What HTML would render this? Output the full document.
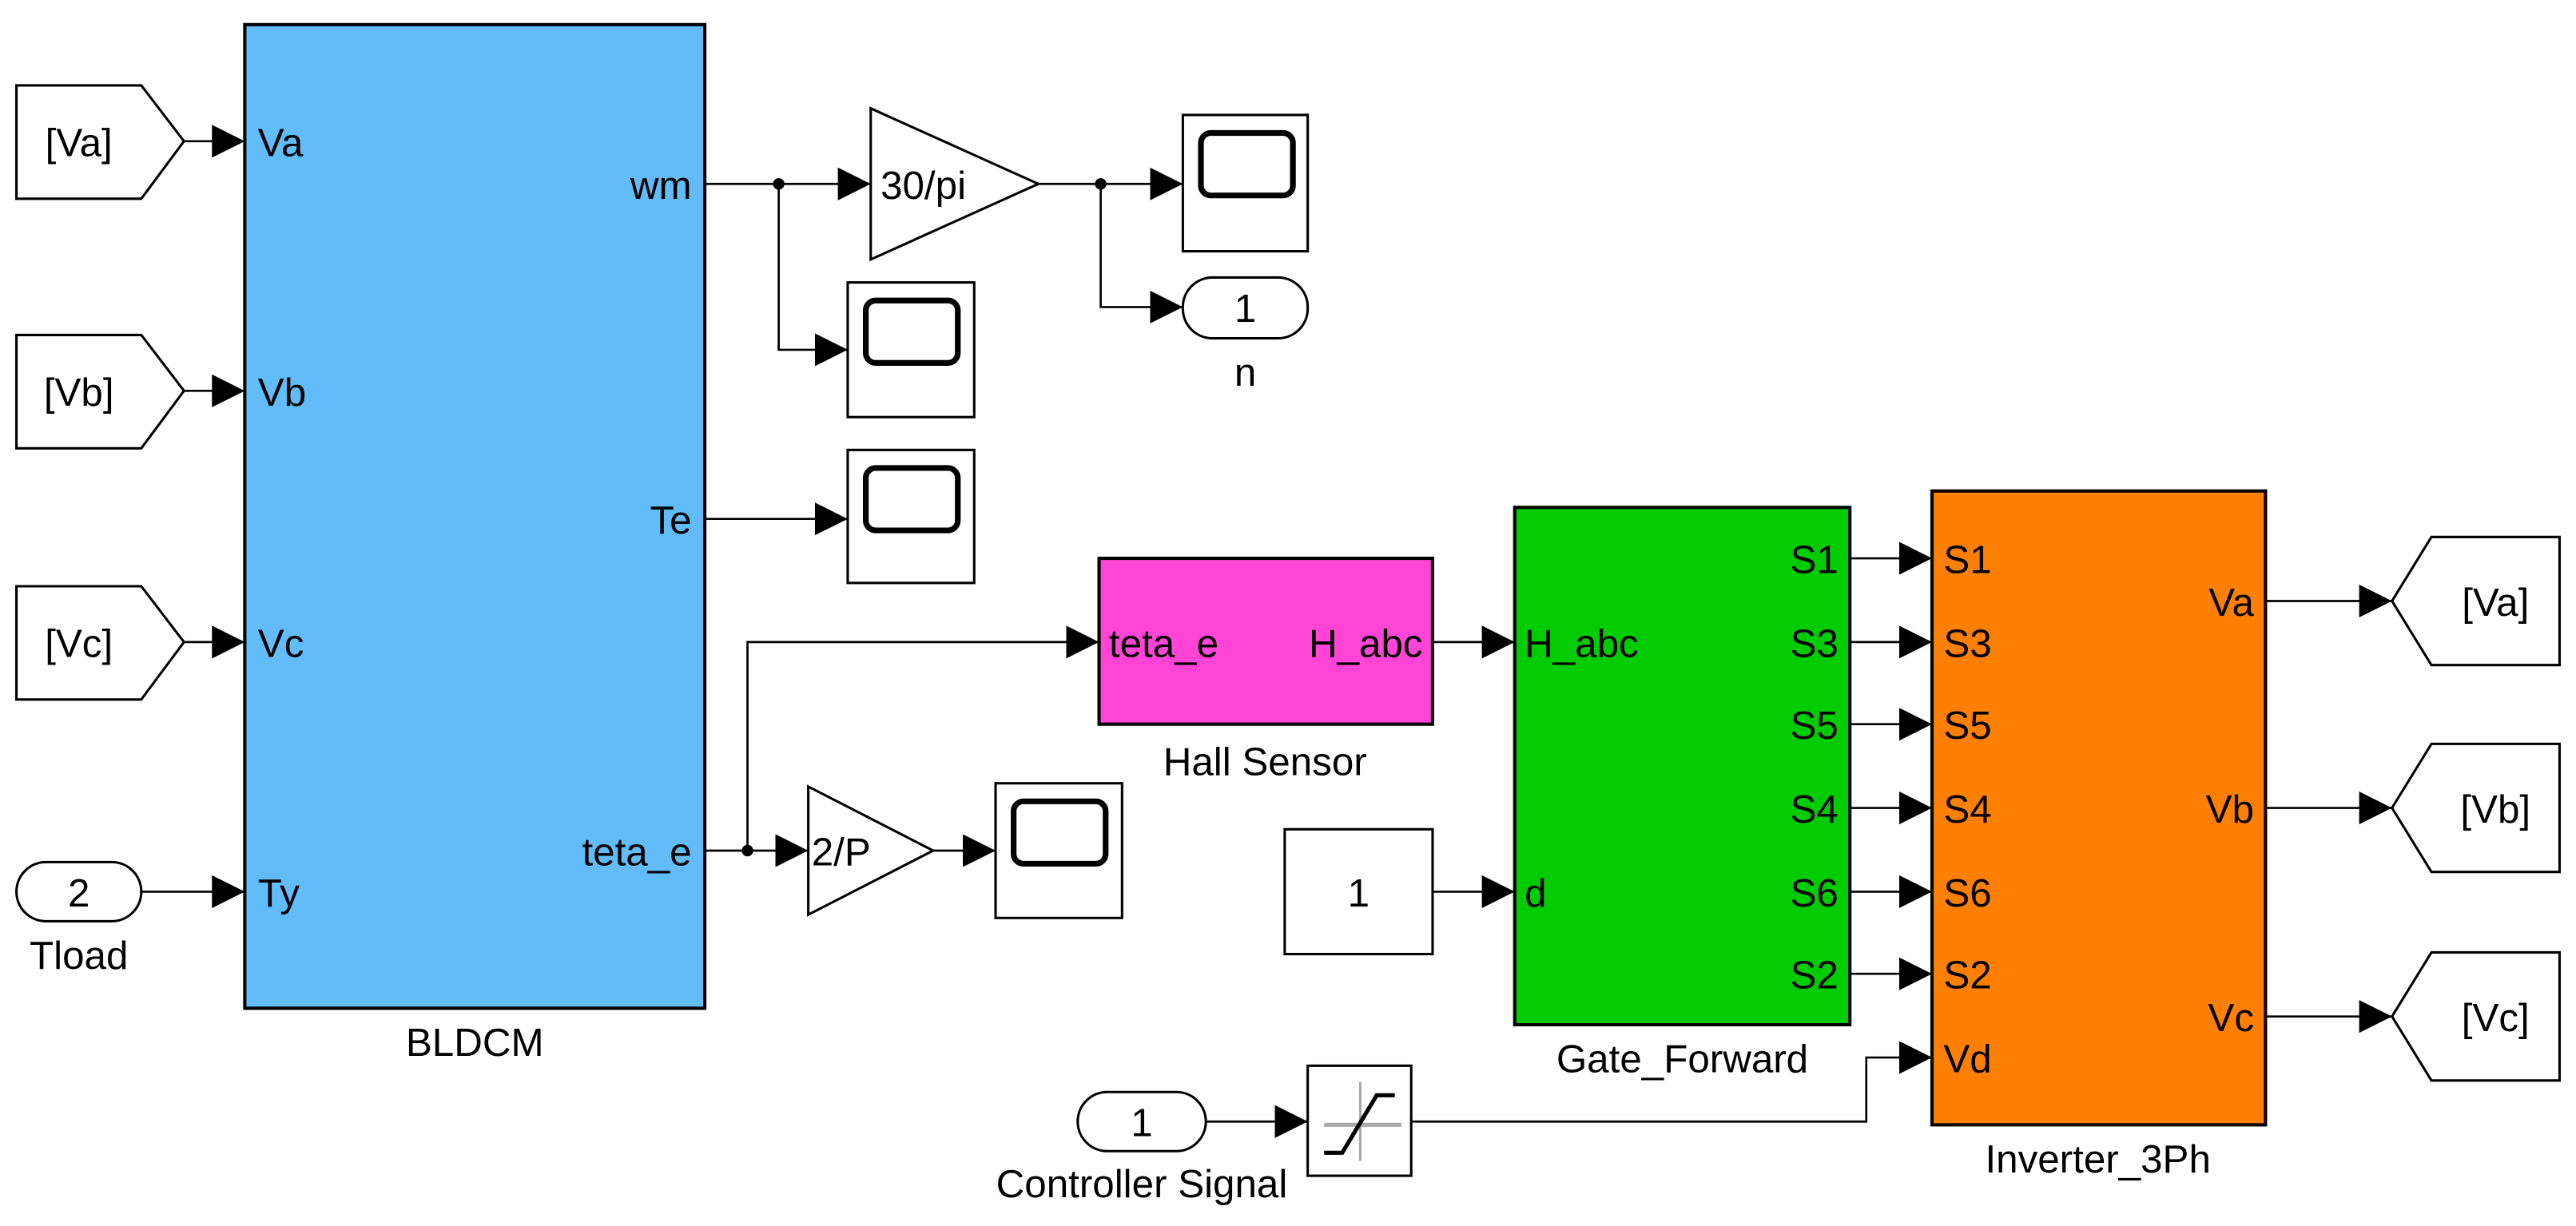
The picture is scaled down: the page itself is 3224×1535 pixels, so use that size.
<!DOCTYPE html>
<html><head><style>html,body{margin:0;padding:0;background:#fff}svg{display:block}</style></head>
<body>
<svg width="3224" height="1535" viewBox="0 0 1568 746.6" preserveAspectRatio="none" xmlns="http://www.w3.org/2000/svg" font-family="Liberation Sans, Arial, sans-serif" font-size="24">
<defs>
<marker id="a" viewBox="0 0 10 10" refX="10" refY="5" markerWidth="20" markerHeight="20" markerUnits="userSpaceOnUse" orient="auto"><path d="M0,0 L10,5 L0,10 Z" fill="#000"/></marker>
</defs>
<g fill="none" stroke="#000" stroke-width="1.3">
<path d="M10,52 H86 L112,86 L86,121 H10 Z" fill="#fff" stroke-width="1.5"/>
<path d="M10,204 H86 L112,238 L86,273 H10 Z" fill="#fff" stroke-width="1.5"/>
<path d="M10,357 H86 L112,391 L86,426 H10 Z" fill="#fff" stroke-width="1.5"/>
<line x1="112" y1="86" x2="149" y2="86" marker-end="url(#a)"/>
<line x1="112" y1="238" x2="149" y2="238" marker-end="url(#a)"/>
<line x1="112" y1="391" x2="149" y2="391" marker-end="url(#a)"/>
<rect x="10" y="525" width="76" height="36" rx="18" fill="#fff" stroke-width="1.5"/>
<line x1="86" y1="543" x2="149" y2="543" marker-end="url(#a)"/>
<rect x="149" y="15" width="280" height="599" fill="#62bcfa" stroke-width="2"/>
<line x1="429" y1="112" x2="530" y2="112" marker-end="url(#a)"/>
<polyline points="474,112 474,213 516,213" marker-end="url(#a)"/>
<polygon points="530,66 632,112 530,158" fill="#fff" stroke-width="1.5"/>
<line x1="632" y1="112" x2="720" y2="112" marker-end="url(#a)"/>
<polyline points="670,112 670,187 720,187" marker-end="url(#a)"/>
<rect x="720" y="70" width="76" height="83" fill="#fff" stroke-width="1.5"/>
<rect x="731" y="81" width="56" height="38" rx="6" stroke-width="3.5"/>
<rect x="720" y="169" width="76" height="37" rx="18" fill="#fff" stroke-width="1.5"/>
<rect x="516" y="172" width="77" height="82" fill="#fff" stroke-width="1.5"/>
<rect x="527" y="183" width="56" height="38" rx="6" stroke-width="3.5"/>
<line x1="429" y1="316" x2="516" y2="316" marker-end="url(#a)"/>
<rect x="516" y="274" width="77" height="81" fill="#fff" stroke-width="1.5"/>
<rect x="527" y="285" width="56" height="38" rx="6" stroke-width="3.5"/>
<line x1="429" y1="518" x2="492" y2="518" marker-end="url(#a)"/>
<polyline points="455,518 455,391 669,391" marker-end="url(#a)"/>
<polygon points="492,479 568,518 492,557" fill="#fff" stroke-width="1.5"/>
<line x1="568" y1="518" x2="606" y2="518" marker-end="url(#a)"/>
<rect x="606" y="477" width="77" height="82" fill="#fff" stroke-width="1.5"/>
<rect x="617" y="488" width="56" height="38" rx="6" stroke-width="3.5"/>
<rect x="669" y="340" width="203" height="101" fill="#ff44d6" stroke-width="2"/>
<line x1="872" y1="391" x2="922" y2="391" marker-end="url(#a)"/>
<rect x="782" y="505" width="90" height="76" fill="#fff" stroke-width="1.5"/>
<line x1="872" y1="543" x2="922" y2="543" marker-end="url(#a)"/>
<rect x="922" y="309" width="204" height="315" fill="#00cc00" stroke-width="2"/>
<line x1="1126" y1="340" x2="1176" y2="340" marker-end="url(#a)"/>
<line x1="1126" y1="391" x2="1176" y2="391" marker-end="url(#a)"/>
<line x1="1126" y1="441" x2="1176" y2="441" marker-end="url(#a)"/>
<line x1="1126" y1="492" x2="1176" y2="492" marker-end="url(#a)"/>
<line x1="1126" y1="543" x2="1176" y2="543" marker-end="url(#a)"/>
<line x1="1126" y1="593" x2="1176" y2="593" marker-end="url(#a)"/>
<rect x="1176" y="299" width="203" height="386" fill="#ff8000" stroke-width="2"/>
<line x1="1379" y1="366" x2="1456" y2="366" marker-end="url(#a)"/>
<line x1="1379" y1="492" x2="1456" y2="492" marker-end="url(#a)"/>
<line x1="1379" y1="619" x2="1456" y2="619" marker-end="url(#a)"/>
<path d="M1456,366 L1480,327 H1558 V405 H1480 Z" fill="#fff" stroke-width="1.5"/>
<path d="M1456,492 L1480,453 H1558 V531 H1480 Z" fill="#fff" stroke-width="1.5"/>
<path d="M1456,619 L1480,580 H1558 V658 H1480 Z" fill="#fff" stroke-width="1.5"/>
<rect x="656" y="665" width="78" height="36" rx="18" fill="#fff" stroke-width="1.5"/>
<line x1="734" y1="683" x2="796" y2="683" marker-end="url(#a)"/>
<rect x="796" y="649" width="63" height="67" fill="#fff" stroke-width="1.5"/>
<line x1="828" y1="659" x2="828" y2="707" stroke="#aaa" stroke-width="1.5"/>
<line x1="806" y1="685" x2="853" y2="685" stroke="#aaa" stroke-width="2.5"/>
<polyline points="806,702 817,702 838,667 849,667" stroke-width="2.5"/>
<polyline points="859,683 1136,683 1136,644 1176,644" marker-end="url(#a)"/>
</g>
<g fill="#000" stroke="none">
<circle cx="474" cy="112" r="3.5"/><circle cx="670" cy="112" r="3.5"/><circle cx="455" cy="518" r="3.5"/>
</g>
<g fill="#000">
<text x="48" y="95" text-anchor="middle">[Va]</text>
<text x="48" y="247" text-anchor="middle">[Vb]</text>
<text x="48" y="400" text-anchor="middle">[Vc]</text>
<text x="48" y="552" text-anchor="middle">2</text>
<text x="48" y="590" text-anchor="middle">Tload</text>
<text x="157" y="95">Va</text>
<text x="157" y="247">Vb</text>
<text x="157" y="400">Vc</text>
<text x="157" y="552">Ty</text>
<text x="421" y="121" text-anchor="end">wm</text>
<text x="421" y="325" text-anchor="end">Te</text>
<text x="421" y="527" text-anchor="end">teta_e</text>
<text x="289" y="643" text-anchor="middle">BLDCM</text>
<text x="536" y="121">30/pi</text>
<text x="758" y="196" text-anchor="middle">1</text>
<text x="758" y="235" text-anchor="middle">n</text>
<text x="494" y="527">2/P</text>
<text x="675" y="400">teta_e</text>
<text x="866" y="400" text-anchor="end">H_abc</text>
<text x="770" y="472" text-anchor="middle">Hall Sensor</text>
<text x="827" y="552" text-anchor="middle">1</text>
<text x="928" y="400">H_abc</text>
<text x="928" y="552">d</text>
<text x="1119" y="349" text-anchor="end">S1</text>
<text x="1119" y="400" text-anchor="end">S3</text>
<text x="1119" y="450" text-anchor="end">S5</text>
<text x="1119" y="501" text-anchor="end">S4</text>
<text x="1119" y="552" text-anchor="end">S6</text>
<text x="1119" y="602" text-anchor="end">S2</text>
<text x="1024" y="653" text-anchor="middle">Gate_Forward</text>
<text x="1183" y="349">S1</text>
<text x="1183" y="400">S3</text>
<text x="1183" y="450">S5</text>
<text x="1183" y="501">S4</text>
<text x="1183" y="552">S6</text>
<text x="1183" y="602">S2</text>
<text x="1183" y="653">Vd</text>
<text x="1372" y="375" text-anchor="end">Va</text>
<text x="1372" y="501" text-anchor="end">Vb</text>
<text x="1372" y="628" text-anchor="end">Vc</text>
<text x="1277" y="714" text-anchor="middle">Inverter_3Ph</text>
<text x="1519" y="375" text-anchor="middle">[Va]</text>
<text x="1519" y="501" text-anchor="middle">[Vb]</text>
<text x="1519" y="628" text-anchor="middle">[Vc]</text>
<text x="695" y="692" text-anchor="middle">1</text>
<text x="695" y="729" text-anchor="middle">Controller Signal</text>
</g>
</svg>
</body></html>
